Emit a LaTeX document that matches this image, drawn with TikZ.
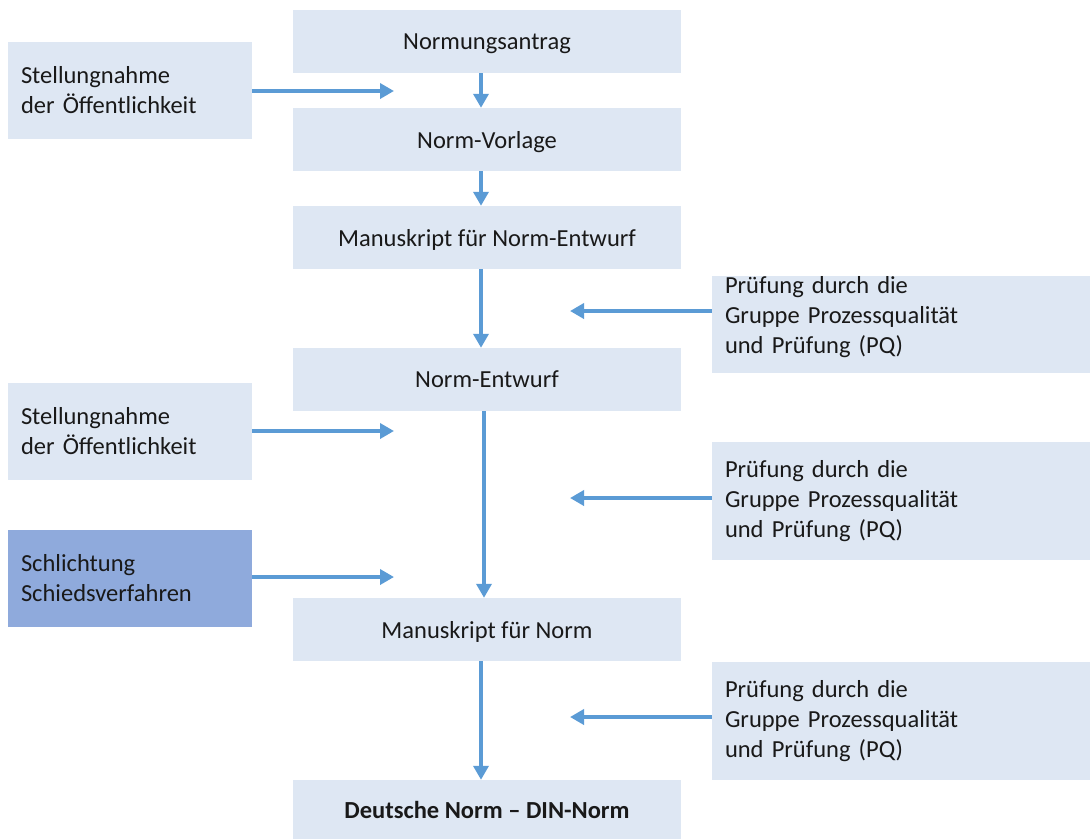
\documentclass[tikz,border=0pt]{standalone}
\usepackage{fontspec}
\setmainfont{Carlito}
\usetikzlibrary{arrows.meta}
\definecolor{boxfill}{HTML}{DEE7F3}
\definecolor{darkfill}{HTML}{8FAADC}
\definecolor{arrowc}{HTML}{5B9BD5}
\begin{document}
\begin{tikzpicture}[x=1pt,y=-1pt,
  every node/.style={font=\fontsize{24.5}{30}\selectfont, text=black!90},
  cbox/.style={fill=boxfill, draw=none, minimum width=388pt, minimum height=63pt, inner sep=0pt, text depth=0pt, anchor=center},
  sbox/.style={fill=boxfill, draw=none, minimum width=244pt, minimum height=97pt, inner xsep=13pt, text width=218pt, align=left, anchor=center},
  pbox/.style={fill=boxfill, draw=none, minimum width=378pt, minimum height=97pt, inner xsep=13pt, text width=352pt, align=left, anchor=center},
  arr/.style={draw=arrowc, line width=4pt, -{Triangle[width=15pt,length=14pt]}}
]
\useasboundingbox (0,0) rectangle (1090,839);
% center column
\node[cbox] (n1) at (487,41.5) {Normungsantrag};
\node[cbox] (n2) at (487,139.5) {Norm-Vorlage};
\node[cbox] (n3) at (487,237.5) {Manuskript für Norm-Entwurf};
\node[cbox] (n4) at (487,379.5) {Norm-Entwurf};
\node[cbox] (n5) at (487,629.5) {Manuskript für Norm};
\node[cbox, minimum height=59pt] (n6) at (487,809.5) {\textbf{Deutsche Norm – DIN-Norm}};
% left column
\node[sbox] (s1) at (130,90.5) {Stellungnahme\\der Öffentlichkeit};
\node[sbox] (s2) at (130,431.5) {Stellungnahme\\der Öffentlichkeit};
\node[sbox, fill=darkfill] (s3) at (130,578) {Schlichtung\\Schiedsverfahren};
% right column
\node[pbox, minimum height=97pt] (p1) at (901,324.5) {};
\node[pbox, fill=none, minimum height=0pt] (p1t) at ([yshift=7pt]p1.center) {Prüfung durch die\\Gruppe Prozessqualität\\und Prüfung (PQ)};
\node[pbox, minimum height=118pt] (p2) at (901,501) {Prüfung durch die\\Gruppe Prozessqualität\\und Prüfung (PQ)};
\node[pbox, minimum height=118pt] (p3) at (901,721) {Prüfung durch die\\Gruppe Prozessqualität\\und Prüfung (PQ)};
% free ends
\coordinate (l1) at (394,91);
\coordinate (l2) at (394,431);
\coordinate (l3) at (394,577);
\coordinate (r1) at (570,311);
\coordinate (r2) at (570,498);
\coordinate (r3) at (570,717);
% vertical arrows
\draw[arr] ([xshift=-6pt]n1.south) -- ([xshift=-6pt]n2.north);
\draw[arr] ([xshift=-6pt]n2.south) -- ([xshift=-6pt]n3.north);
\draw[arr] ([xshift=-6pt]n3.south) -- ([xshift=-6pt]n4.north);
\draw[arr] ([xshift=-3pt]n4.south) -- ([xshift=-3pt]n5.north);
\draw[arr] ([xshift=-6pt]n5.south) -- ([xshift=-6pt]n6.north);
% horizontal arrows
\draw[arr] (s1.east |- l1) -- (l1);
\draw[arr] (s2.east |- l2) -- (l2);
\draw[arr] (s3.east |- l3) -- (l3);
\draw[arr] (p1.west |- r1) -- (r1);
\draw[arr] (p2.west |- r2) -- (r2);
\draw[arr] (p3.west |- r3) -- (r3);
\end{tikzpicture}
\end{document}
